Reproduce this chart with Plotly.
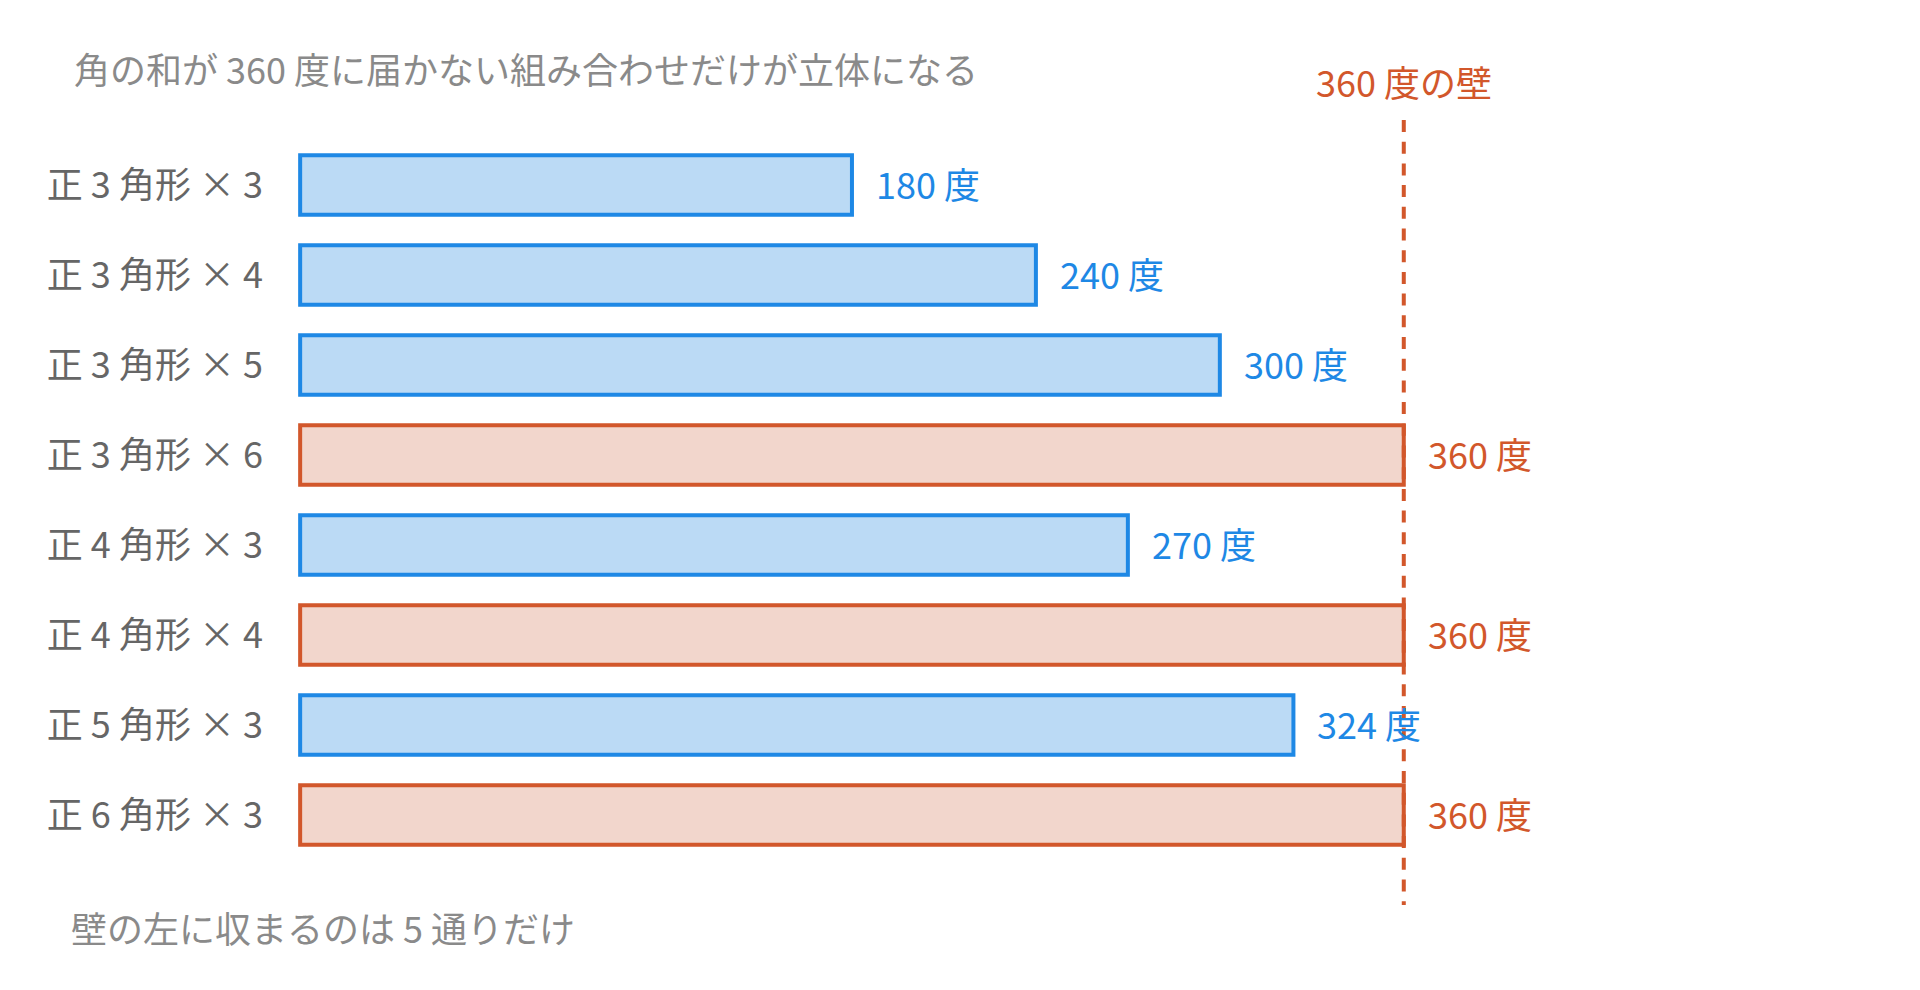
import plotly.graph_objects as go

# 組み合わせと頂点に集まる角の和
labels = ["正 3 角形 × 3", "正 3 角形 × 4", "正 3 角形 × 5", "正 3 角形 × 6",
          "正 4 角形 × 3", "正 4 角形 × 4", "正 5 角形 × 3", "正 6 角形 × 3"]
angles = [180, 240, 300, 360, 270, 360, 324, 360]
wall = 360

BLUE = "#1E88E5"
BLUE_FILL = "#BBDAF5"
ORANGE = "#D2572B"
ORANGE_FILL = "#F2D6CC"
FONT = "Noto Sans CJK JP"

W, H = 1920, 990
OFF = 8  # ページ余白の分だけずらす
PXU = 1104 / 360  # 1 度あたりのピクセル
XMIN, XMAX = -0.7, 470
L, T = round(300 - OFF + XMIN * PXU), 140 - OFF
B = H - (860 - OFF)
PW = round((XMAX - XMIN) * PXU)
R = W - L - PW
PH = H - T - B
DY = 2.5  # 文字の縦位置の微調整


def py(px):
    # 参照画像の縦ピクセル位置 -> paper 座標
    return (H - B - (px - OFF)) / PH


def px_x(px):
    return (px - OFF - L) / PW


fill = [ORANGE_FILL if a >= wall else BLUE_FILL for a in angles]
edge = [ORANGE if a >= wall else BLUE for a in angles]

fig = go.Figure()
fig.add_trace(go.Bar(
    x=angles, y=labels, orientation="h", width=0.66,
    marker=dict(color=fill, line=dict(color=edge, width=4)),
    hoverinfo="skip",
))

# 値ラベル
for lab, a, c in zip(labels, angles, edge):
    fig.add_annotation(x=a, y=lab, text=f"{a} 度", showarrow=False,
                       xanchor="left", yanchor="middle", xshift=22, yshift=DY,
                       font=dict(family=FONT, size=36, color=c))

# 360 度の壁
fig.add_shape(type="line", xref="x", yref="paper", x0=wall, x1=wall,
              y0=py(120), y1=py(905), layer="above",
              line=dict(color=ORANGE, width=4, dash="12px,9.7px"))
fig.add_annotation(x=wall, xref="x", y=py(83), yref="paper", yanchor="middle",
                   yshift=DY, text="360 度の壁", showarrow=False,
                   font=dict(family=FONT, size=36, color=ORANGE))

fig.add_annotation(text="角の和が 360 度に届かない組み合わせだけが立体になる",
                   xref="paper", yref="paper", x=px_x(72), y=py(71), yshift=DY,
                   xanchor="left", yanchor="middle", showarrow=False,
                   font=dict(family=FONT, size=36, color="#8A8A8A"))
fig.add_annotation(text="壁の左に収まるのは 5 通りだけ",
                   xref="paper", yref="paper", x=px_x(69), y=py(929), yshift=DY,
                   xanchor="left", yanchor="middle", showarrow=False,
                   font=dict(family=FONT, size=36, color="#8A8A8A"))

fig.update_layout(
    width=W, height=H,
    margin=dict(l=L, r=R, t=T, b=B),
    paper_bgcolor="white", plot_bgcolor="white",
    showlegend=False,
)

fig.update_xaxes(range=[XMIN, XMAX], visible=False)
fig.update_yaxes(autorange="reversed", showgrid=False, zeroline=False, showline=False,
                 ticks="", ticklabelstandoff=34,
                 tickfont=dict(family=FONT, size=36, color="#666666"))

fig.write_html("out.html")
